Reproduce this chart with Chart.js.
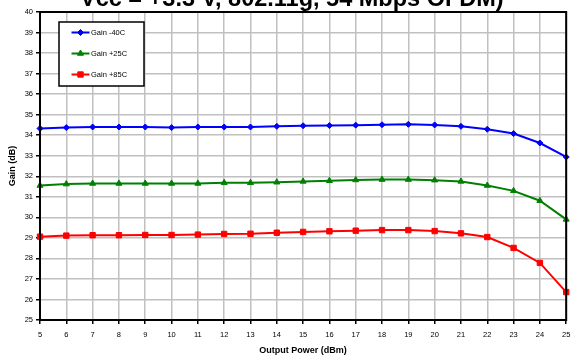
<!DOCTYPE html>
<html>
<head>
<meta charset="utf-8">
<script src="https://cdn.jsdelivr.net/npm/chart.js@4.4.1/dist/chart.umd.min.js"></script>
<style>
  html, body { margin: 0; padding: 0; background: #fff; }
  #wrap { width: 571px; height: 356px; position: relative; }
</style>
</head>
<body>
<div id="wrap"><canvas id="gain-chart" width="571" height="356"></canvas></div>
<script>
const outputPower = [5, 6, 7, 8, 9, 10, 11, 12, 13, 14, 15, 16, 17, 18, 19, 20, 21, 22, 23, 24, 25];

const gainMinus40 = [34.33, 34.37, 34.40, 34.40, 34.40, 34.37, 34.40, 34.40, 34.40, 34.43, 34.46, 34.47,
    34.49, 34.51, 34.53, 34.50, 34.43, 34.29, 34.08, 33.62, 32.94];
const gainPlus25 = [31.55, 31.62, 31.65, 31.65, 31.65, 31.65, 31.65, 31.68, 31.68, 31.71, 31.75, 31.78,
    31.82, 31.84, 31.84, 31.81, 31.75, 31.55, 31.29, 30.81, 29.90];
const gainPlus85 = [29.06, 29.11, 29.13, 29.13, 29.14, 29.14, 29.16, 29.19, 29.20, 29.25, 29.29, 29.32,
    29.35, 29.38, 29.38, 29.33, 29.22, 29.04, 28.51, 27.78, 26.36];

const seriesNames = ['Gain -40C', 'Gain +25C', 'Gain +85C'];
const titleText = 'Vcc = +3.3 V, 802.11g, 54 Mbps OFDM)';

const FONT = 'Arial, "Liberation Sans", sans-serif';

// frame around the whole plot area
const plotFrame = {
    id: 'plotFrame',
    afterDraw(chart) {
        const { ctx, chartArea: a } = chart;
        ctx.save();
        ctx.strokeStyle = '#000';
        ctx.lineWidth = 2;
        ctx.strokeRect(a.left, a.top, a.right - a.left, a.bottom - a.top);
        ctx.restore();
    }
};

// heading line, runs off the top edge
const heading = {
    id: 'heading',
    afterDraw(chart) {
        const { ctx } = chart;
        ctx.save();
        ctx.font = 'bold 23.5px ' + FONT;
        ctx.fillStyle = '#000';
        ctx.textAlign = 'left';
        ctx.textBaseline = 'alphabetic';
        ctx.fillText(titleText, 80, 6);
        ctx.restore();
    }
};

// boxed legend sitting inside the plot
const boxLegend = {
    id: 'boxLegend',
    afterDraw(chart) {
        const { ctx } = chart;
        const x = 59, y = 22, w = 85, h = 64;
        ctx.save();
        ctx.fillStyle = '#fff';
        ctx.fillRect(x, y, w, h);
        ctx.strokeStyle = '#000';
        ctx.lineWidth = 1.5;
        ctx.strokeRect(x, y, w, h);
        chart.data.datasets.forEach((ds, i) => {
            const cy = 32.5 + i * 21;
            ctx.strokeStyle = ds.borderColor;
            ctx.fillStyle = ds.borderColor;
            ctx.lineWidth = 2;
            ctx.beginPath();
            ctx.moveTo(71.5, cy);
            ctx.lineTo(89.5, cy);
            ctx.stroke();
            ctx.lineWidth = 1;
            Chart.helpers.drawPoint(ctx, {
                pointStyle: ds.pointStyle,
                radius: ds.pointRadius,
                borderWidth: 1
            }, 80.5, cy);
            ctx.fillStyle = '#000';
            ctx.font = '7.5px ' + FONT;
            ctx.textAlign = 'left';
            ctx.textBaseline = 'middle';
            ctx.fillText(ds.label, 91, cy + 0.5);
        });
        ctx.restore();
    }
};

function series(label, values, color, style, r) {
    return {
        label,
        data: values,
        borderColor: color,
        backgroundColor: color,
        pointBackgroundColor: color,
        pointBorderColor: color,
        pointBorderWidth: 1,
        pointStyle: style,
        pointRadius: r,
        pointHoverRadius: r,
        borderWidth: 2,
        tension: 0
    };
}

Chart.defaults.font.family = FONT;
Chart.defaults.color = '#000';

new Chart(
    document.getElementById('gain-chart'),
    {
        type: 'line',
        data: {
            labels: outputPower,
            datasets: [
                series(seriesNames[0], gainMinus40, '#0000ff', 'rectRot', 3),
                series(seriesNames[1], gainPlus25, '#008000', 'triangle', 3.5),
                series(seriesNames[2], gainPlus85, '#ff0000', 'rect', 3.8)
            ]
        },
        options: {
            responsive: false,
            animation: false,
            events: [],
            layout: {
                padding: { left: 0, right: 4, top: 12, bottom: 0 }
            },
            plugins: {
                legend: { display: false },
                title: { display: false },
                tooltip: { enabled: false }
            },
            scales: {
                x: {
                    type: 'category',
                    offset: false,
                    grid: {
                        color: '#c0c0c0',
                        lineWidth: 1.5,
                        tickColor: '#000',
                        tickLength: 4
                    },
                    border: { display: true, color: '#000', width: 2 },
                    ticks: {
                        font: { size: 7.5 },
                        maxRotation: 0,
                        autoSkip: false,
                        padding: 6
                    },
                    title: {
                        display: true,
                        text: 'Output Power (dBm)',
                        font: { size: 9, weight: 'bold' },
                        padding: { top: 3, bottom: 0 }
                    },
                    afterFit(scale) {
                        scale.height = 36;
                        scale.paddingLeft = 0;
                        scale.paddingRight = 0;
                    }
                },
                y: {
                    min: 25,
                    max: 40,
                    grid: {
                        color: '#c0c0c0',
                        lineWidth: 1.5,
                        tickColor: '#000',
                        tickLength: 4
                    },
                    border: { display: true, color: '#000', width: 2 },
                    ticks: {
                        stepSize: 1,
                        font: { size: 7.5 },
                        padding: 3
                    },
                    title: {
                        display: true,
                        text: 'Gain (dB)',
                        font: { size: 9, weight: 'bold' },
                        padding: { top: 7, bottom: 0 }
                    },
                    afterFit(scale) {
                        scale.width = 40;
                        scale.paddingTop = 0;
                        scale.paddingBottom = 0;
                    }
                }
            }
        },
        plugins: [plotFrame, heading, boxLegend]
    }
);
</script>
</body>
</html>
